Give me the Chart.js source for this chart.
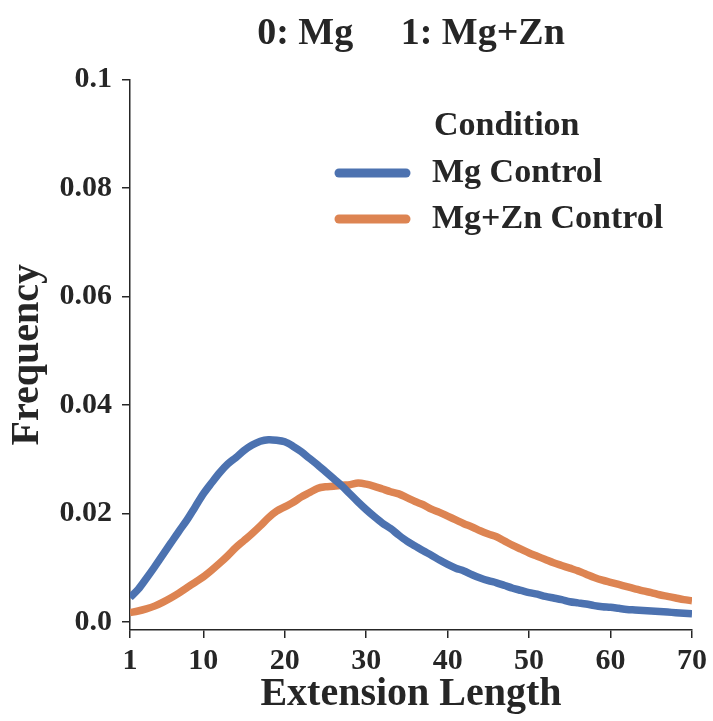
<!DOCTYPE html>
<html>
<head>
<meta charset="utf-8">
<script src="https://cdn.jsdelivr.net/npm/chart.js@4"></script>
<style>
  html, body { margin: 0; padding: 0; background: #fff; }
  #wrap { width: 713px; height: 721px; }
</style>
</head>
<body>
<div id="wrap"><canvas id="chart"></canvas></div>
<script>
const extension = [1,2,3,4,5,6,7,8,9,10,11,12,13,14,15,16,17,18,19,20,21,22,23,24,25,26,27,28,29,30,31,32,33,34,35,36,37,38,39,40,41,42,43,44,45,46,47,48,49,50,51,52,53,54,55,56,57,58,59,60,61,62,63,64,65,66,67,68,69,70];

const mgControl = [0.0045,0.0060,0.0080,0.0101,0.0123,0.0145,0.0167,0.0188,0.0212,0.0236,
  0.0256,0.0275,0.0291,0.0303,0.0316,0.0326,0.0333,0.0336,0.0335,0.0332,
  0.0324,0.0314,0.0302,0.0290,0.0277,0.0264,0.0251,0.0236,0.0221,0.0207,
  0.0194,0.0182,0.0172,0.0160,0.0149,0.0140,0.0131,0.0123,0.0114,0.0106,
  0.0099,0.0094,0.0087,0.0081,0.0076,0.0072,0.0067,0.0062,0.0058,0.0054,
  0.0051,0.0047,0.0044,0.0041,0.0037,0.0035,0.0033,0.0030,0.0028,0.0027,
  0.0025,0.0023,0.0022,0.0021,0.0020,0.0019,0.0018,0.0017,0.0016,0.0015];

const mgZnControl = [0.0017,0.0020,0.0024,0.0029,0.0036,0.0044,0.0053,0.0063,0.0073,0.0083,
  0.0095,0.0108,0.0122,0.0137,0.0150,0.0163,0.0177,0.0192,0.0204,0.0212,
  0.0220,0.0230,0.0238,0.0246,0.0249,0.0250,0.0252,0.0253,0.0256,0.0254,
  0.0250,0.0245,0.0240,0.0236,0.0229,0.0222,0.0216,0.0208,0.0202,0.0195,
  0.0188,0.0181,0.0175,0.0168,0.0162,0.0157,0.0149,0.0141,0.0134,0.0127,
  0.0121,0.0115,0.0109,0.0104,0.0099,0.0094,0.0088,0.0082,0.0077,0.0073,
  0.0069,0.0065,0.0061,0.0057,0.0054,0.0050,0.0047,0.0044,0.0041,0.0039];

const xTicks = [1,10,20,30,40,50,60,70];
const yTicks = [0, 0.02, 0.04, 0.06, 0.08, 0.1];
const yTickLabels = ['0.0','0.02','0.04','0.06','0.08','0.1'];

const FONT = "'Liberation Serif', 'Times New Roman', serif";
const INK = '#262626';

// legend drawn inside the plot, seaborn style
const innerLegend = {
  id: 'innerLegend',
  afterDraw(chart) {
    const ctx = chart.ctx;
    ctx.save();
    ctx.font = 'bold 34px ' + FONT;
    ctx.fillStyle = INK;
    ctx.textBaseline = 'middle';
    ctx.textAlign = 'left';
    ctx.fillText('Condition', 434, 126);
    chart.data.datasets.forEach((ds, i) => {
      const y = 173 + i * 46;
      ctx.strokeStyle = ds.borderColor;
      ctx.lineWidth = 9;
      ctx.lineCap = 'round';
      ctx.beginPath();
      ctx.moveTo(339, y);
      ctx.lineTo(406, y);
      ctx.stroke();
      ctx.fillStyle = INK;
      ctx.fillText(ds.label, 432, y);
    });
    ctx.restore();
  }
};

new Chart(document.getElementById('chart'), {
  type: 'line',
  data: {
    labels: extension,
    datasets: [
      {
        label: 'Mg Control',
        data: mgControl,
        borderColor: '#4c72b0',
        borderWidth: 7.5,
        pointRadius: 0,
        tension: 0.3,
        fill: false
      },
      {
        label: 'Mg+Zn Control',
        data: mgZnControl,
        borderColor: '#dd8452',
        borderWidth: 7.5,
        pointRadius: 0,
        tension: 0.3,
        fill: false
      }
    ]
  },
  options: {
    responsive: true,
    maintainAspectRatio: false,
    animation: false,
    layout: { padding: { left: 0, right: 21, top: 0, bottom: 0 } },
    plugins: {
      legend: { display: false },
      tooltip: { enabled: false },
      title: {
        display: true,
        fullSize: false,
        text: '0: Mg     1: Mg+Zn',
        color: INK,
        font: { family: FONT, size: 38, weight: 'bold' },
        padding: { top: 11, bottom: 23 }
      }
    },
    scales: {
      x: {
        type: 'linear',
        min: 1,
        max: 70,
        afterBuildTicks: s => { s.ticks = xTicks.map(v => ({ value: v })); },
        afterFit: s => { s.height = 91; },
        border: { display: true, color: INK, width: 1.5 },
        grid: { drawOnChartArea: false, drawTicks: true, tickLength: 8, color: INK, lineWidth: 1.5 },
        ticks: {
          color: INK,
          padding: 5,
          maxRotation: 0,
          font: { family: FONT, size: 30, weight: 'bold' }
        },
        title: {
          display: true,
          text: 'Extension Length',
          color: INK,
          font: { family: FONT, size: 40, weight: 'bold' },
          padding: { top: 0, bottom: 2 }
        }
      },
      y: {
        min: -0.0015,
        max: 0.1,
        afterBuildTicks: s => { s.ticks = yTicks.map(v => ({ value: v })); },
        afterFit: s => { s.width = 130; },
        border: { display: true, color: INK, width: 1.5 },
        grid: { drawOnChartArea: false, drawTicks: true, tickLength: 8, color: INK, lineWidth: 1.5 },
        ticks: {
          color: INK,
          padding: 10,
          font: { family: FONT, size: 30, weight: 'bold' },
          callback: (v, i) => yTickLabels[yTicks.indexOf(v)] ?? ''
        },
        title: {
          display: true,
          text: 'Frequency',
          color: INK,
          font: { family: FONT, size: 40, weight: 'bold' },
          padding: { top: 4, bottom: 0 }
        }
      }
    }
  },
  plugins: [innerLegend]
});
</script>
</body>
</html>
